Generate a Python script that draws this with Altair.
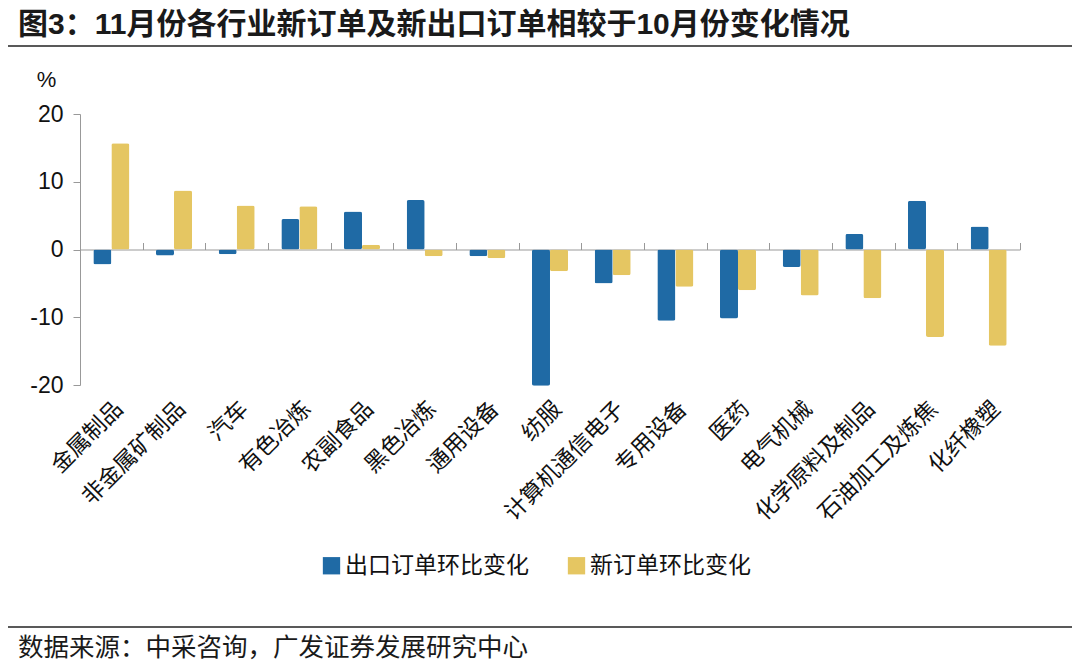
import altair as alt
import pandas as pd

categories = ["金属制品", "非金属矿制品", "汽车", "有色冶炼", "农副食品", "黑色冶炼", "通用设备", "纺服",
              "计算机通信电子", "专用设备", "医药", "电气机械", "化学原料及制品", "石油加工及炼焦", "化纤橡塑"]
export_change = [-2.2, -0.9, -0.7, 4.5, 5.6, 7.3, -1.0, -20.1, -5.0, -10.5, -10.2, -2.6, 2.3, 7.2, 3.4]
new_change = [15.7, 8.7, 6.5, 6.4, 0.7, -1.0, -1.3, -3.2, -3.8, -5.5, -6.0, -6.8, -7.2, -12.9, -14.2]
series = ["出口订单环比变化", "新订单环比变化"]
colors = ["#1F6AA5", "#E5C662"]
y_ticks = [-20, -10, 0, 10, 20]

title_text = "图3：11月份各行业新订单及新出口订单相较于10月份变化情况"
source_text = "数据来源：中采咨询，广发证券发展研究中心"

rows = []
for c, e, n in zip(categories, export_change, new_change):
    rows.append({"cat": c, "series": series[0], "v": e})
    rows.append({"cat": c, "series": series[1], "v": n})
df = pd.DataFrame(rows)

W, H = 940, 271
CJK = "Noto Sans CJK SC"
NUM = "Liberation Sans, Noto Sans CJK SC"

x_scale = alt.Scale(domain=categories, paddingInner=0, paddingOuter=0)
y_scale = alt.Scale(domain=[-20, 20], nice=False)


def y_axis():
    return alt.Axis(values=y_ticks, grid=False, domainColor="#999", tickColor="#999",
                    tickSize=7, labelFont=NUM, labelFontSize=23, labelColor="#111",
                    labelPadding=10, labelExpr="datum.value + ''",
                    title="%", titleAngle=0, titleX=-34, titleY=-35,
                    titleAlign="center", titleBaseline="middle", titleFont=NUM,
                    titleFontSize=22, titleFontWeight="normal", titleColor="#111")


bars = alt.Chart(df).mark_bar(cornerRadius=2).encode(
    x=alt.X("cat:N", sort=categories, scale=x_scale, title=None,
            axis=alt.Axis(labelAngle=-45, labelFont=CJK, labelFontSize=22.5, labelColor="#111",
                          labelPadding=12, labelLimit=400, ticks=False, domain=False)),
    xOffset=alt.XOffset("series:N", sort=series,
                        scale=alt.Scale(domain=series, paddingInner=0, paddingOuter=0.74)),
    y=alt.Y("v:Q", scale=y_scale, title="%", axis=y_axis()),
    color=alt.Color("series:N", sort=series, scale=alt.Scale(domain=series, range=colors),
                    legend=alt.Legend(orient="none", legendX=240, legendY=440, direction="horizontal",
                                      title=None, symbolType="square", symbolSize=300,
                                      symbolStrokeWidth=0, labelFont=CJK, labelFontSize=23,
                                      labelColor="#111", columnPadding=36, labelOffset=2,
                                      labelLimit=400)),
)

zero_axis = alt.Chart(df).mark_bar(opacity=0).encode(
    x=alt.X("cat:N", sort=categories, scale=x_scale, title=None,
            axis=alt.Axis(labels=False, ticks=True, tickBand="extent", tickSize=7,
                          tickColor="#999", domainColor="#999", offset=-135.5)),
    y=alt.Y("v:Q", scale=y_scale, title="%", axis=y_axis()),
)


def text_layer(txt, x, y, size, weight="normal", font=NUM):
    return alt.Chart(pd.DataFrame({"t": [txt]})).mark_text(
        align="left", baseline="middle", fontSize=size, fontWeight=weight, font=font, color="#1a1a1a"
    ).encode(x=alt.value(x), y=alt.value(y), text="t:N")


def hline(y):
    return alt.Chart(pd.DataFrame({"a": [0]})).mark_rule(color="#222", strokeWidth=1.5).encode(
        x=alt.value(-72), x2=alt.value(992), y=alt.value(y))


title_layer = text_layer(title_text, -62, -89, 30, "bold")
source_layer = text_layer(source_text, -62, 534, 25.5, font=CJK)

chart = alt.layer(bars, zero_axis, title_layer, source_layer, hline(-68), hline(513)).resolve_axis(
    x="independent"
).properties(
    width=W, height=H,
    autosize=alt.AutoSizeParams(type="none"),
    padding={"left": 72, "top": 106, "right": 52, "bottom": 279},
).configure_view(stroke=None)

chart.save("out.html", embed_options={"renderer": "svg", "actions": False})
